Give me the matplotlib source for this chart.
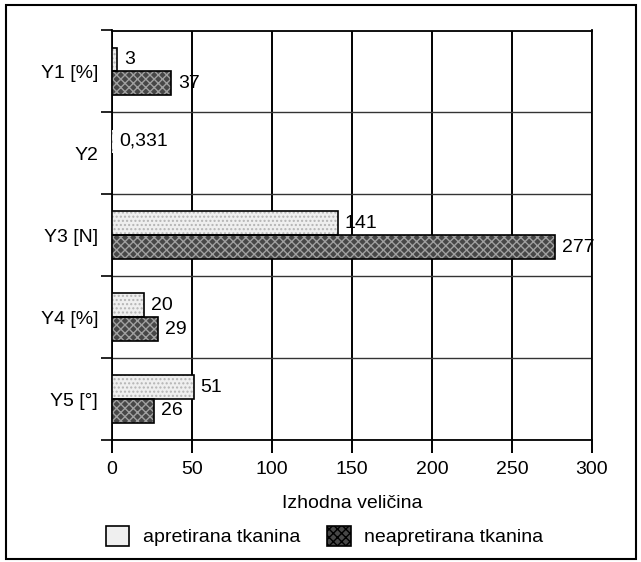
import matplotlib
matplotlib.use("Agg")
import matplotlib.pyplot as plt
from matplotlib import font_manager
from matplotlib.patches import Rectangle, Patch
import numpy as np

# data
categories = ["Y1 [%]", "Y2", "Y3 [N]", "Y4 [%]", "Y5 [°]"]
apretirana = [3, 0.331, 141, 20, 51]
neapretirana = [37, None, 277, 29, 26]
apretirana_labels = ["3", "0,331", "141", "20", "51"]
neapretirana_labels = ["37", "", "277", "29", "26"]
x_ticks = [0, 50, 100, 150, 200, 250, 300]

names = {f.name for f in font_manager.fontManager.ttflist}
family = [f for f in ["Liberation Sans Narrow", "Liberation Sans", "DejaVu Sans"] if f in names]
plt.rcParams["font.family"] = family
plt.rcParams["font.size"] = 14

fig = plt.figure(figsize=(6.41, 5.62), dpi=100)
ax = fig.add_axes([112 / 641, 1 - 440 / 562, 480 / 641, 409.5 / 562])

y = np.arange(len(categories))
h = 0.29

light_face, light_hatch = "#efefef", "#b4b4b4"
dark_face, dark_hatch = "#474747", "#a0a0a0"

for i in range(len(categories)):
    a = apretirana[i]
    if a is not None:
        ax.barh(y[i] - h / 2, a, height=h, color=light_face, edgecolor=light_hatch,
                hatch="....", linewidth=0, zorder=3)
        if a >= 1:
            ax.barh(y[i] - h / 2, a, height=h, fill=False, edgecolor="black", linewidth=1.2, zorder=4)
        ax.annotate(apretirana_labels[i], (a, y[i] - h / 2), xytext=(5, 0),
                    textcoords="offset points", va="center", ha="left", zorder=5)
    b = neapretirana[i]
    if b is not None:
        ax.barh(y[i] + h / 2, b, height=h, color=dark_face, edgecolor=dark_hatch,
                hatch="xxxx", linewidth=0, zorder=3)
        ax.barh(y[i] + h / 2, b, height=h, fill=False, edgecolor="black", linewidth=1.2, zorder=4)
        ax.annotate(neapretirana_labels[i], (b, y[i] + h / 2), xytext=(5, 0),
                    textcoords="offset points", va="center", ha="left", zorder=5)

ax.set_xlim(0, 300)
ax.set_ylim(len(categories) - 0.5, -0.5)
ax.set_xticks(x_ticks)
ax.set_yticks(y)
ax.set_yticklabels(categories)
ax.set_yticks(np.arange(-0.5, len(categories), 1.0), minor=True)
ax.tick_params(axis="y", which="major", length=0, pad=10)
ax.tick_params(axis="y", which="minor", length=8, width=1.2, direction="out")
ax.tick_params(axis="x", length=9, width=1.4, direction="out", pad=6)
ax.grid(axis="x", which="major", color="black", linewidth=1.4, zorder=1)
ax.grid(axis="y", which="minor", color="#333333", linewidth=1.0, zorder=1)
for s in ax.spines.values():
    s.set_linewidth(1.3)
    s.set_color("black")

ax.set_xlabel("Izhodna veličina", labelpad=12)

handles = [
    Patch(facecolor=light_face, edgecolor="black", linewidth=1.2, label="apretirana tkanina"),
    Patch(facecolor=dark_face, edgecolor="black", linewidth=1.2, hatch="xxxx", label="neapretirana tkanina"),
]
fig.legend(handles=handles, loc="center left", bbox_to_anchor=(98 / 641, 1 - 536 / 562),
           ncol=2, frameon=False, handlelength=1.2, handleheight=1.2,
           handletextpad=0.7, columnspacing=1.4, borderaxespad=0)

fig.patches.append(Rectangle((6 / 641, 3 / 562), 630 / 641, 554 / 562, transform=fig.transFigure,
                             fill=False, edgecolor="black", linewidth=1.5))

fig.savefig("out.png", dpi=100)
